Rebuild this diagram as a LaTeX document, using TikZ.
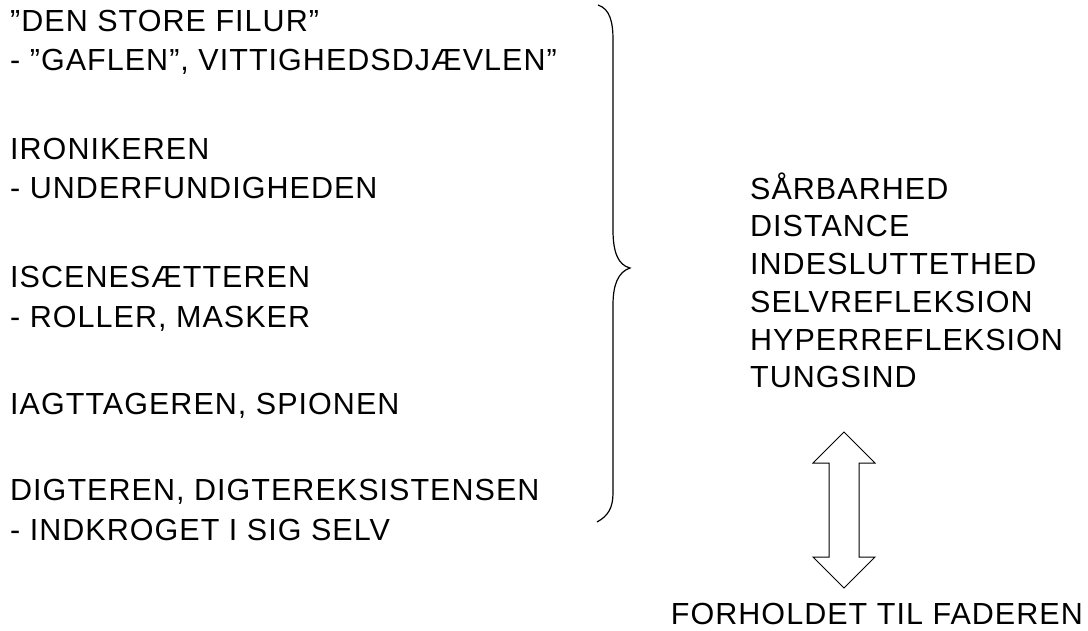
\documentclass[tikz,border=0pt]{standalone}
\usepackage{fontspec}
\setmainfont{Liberation Sans}[LetterSpace=3.4]
\begin{document}
\begin{tikzpicture}[x=1pt,y=-1pt]

      \useasboundingbox (0,0) rectangle (1088,631);

      \begin{scope}[every node/.style={anchor=base west, inner sep=0pt, font=\fontsize{30.5}{36}\selectfont}]
        \node (filur)   at (10,32)  {”DEN STORE FILUR”};
        \node (gaflen)  at (10,71)  {- ”GAFLEN”, VITTIGHEDSDJÆVLEN”};
        \node (ironi)   at (10,160) {IRONIKEREN};
        \node (under)   at (10,199) {- UNDERFUNDIGHEDEN};
        \node (iscene)  at (10,288) {ISCENESÆTTEREN};
        \node (roller)  at (10,328) {- ROLLER, MASKER};
        \node (iagt)    at (10,414) {IAGTTAGEREN, SPIONEN};
        \node (digter)  at (10,500) {DIGTEREN, DIGTEREKSISTENSEN};
        \node (indkrog) at (10,540) {- INDKROGET I SIG SELV};
        \node (saar)    at (750,200) {SÅRBARHED};
        \node (dist)    at (750,237) {DISTANCE};
        \node (indes)   at (750,275) {INDESLUTTETHED};
        \node (selv)    at (750,313) {SELVREFLEKSION};
        \node (hyper)   at (750,350) {HYPERREFLEKSION};
        \node (tung)    at (750,388) {TUNGSIND};
        \node[anchor=base east] (fader) at (1083,624) {FORHOLDET TIL FADEREN};
      \end{scope}

      \begin{scope}[line width=1.2pt]
        % brace
        \draw (598,5) .. controls (610,9) and (613,22) .. (613,40)
          -- (613,230) .. controls (613,252) and (618,265) .. (630,268)
          .. controls (618,272) and (613,285) .. (613,305)
          -- (613,493) .. controls (613,508) and (608,516) .. (597,522);
      \end{scope}

      % double arrow
      \draw[line width=1pt, line join=miter]
        (844,432) -- (875,463) -- (859,463) -- (859,557) -- (875,557)
        -- (844,588) -- (813,557) -- (829,557) -- (829,463) -- (813,463) -- cycle;

    \end{tikzpicture}
\end{document}
